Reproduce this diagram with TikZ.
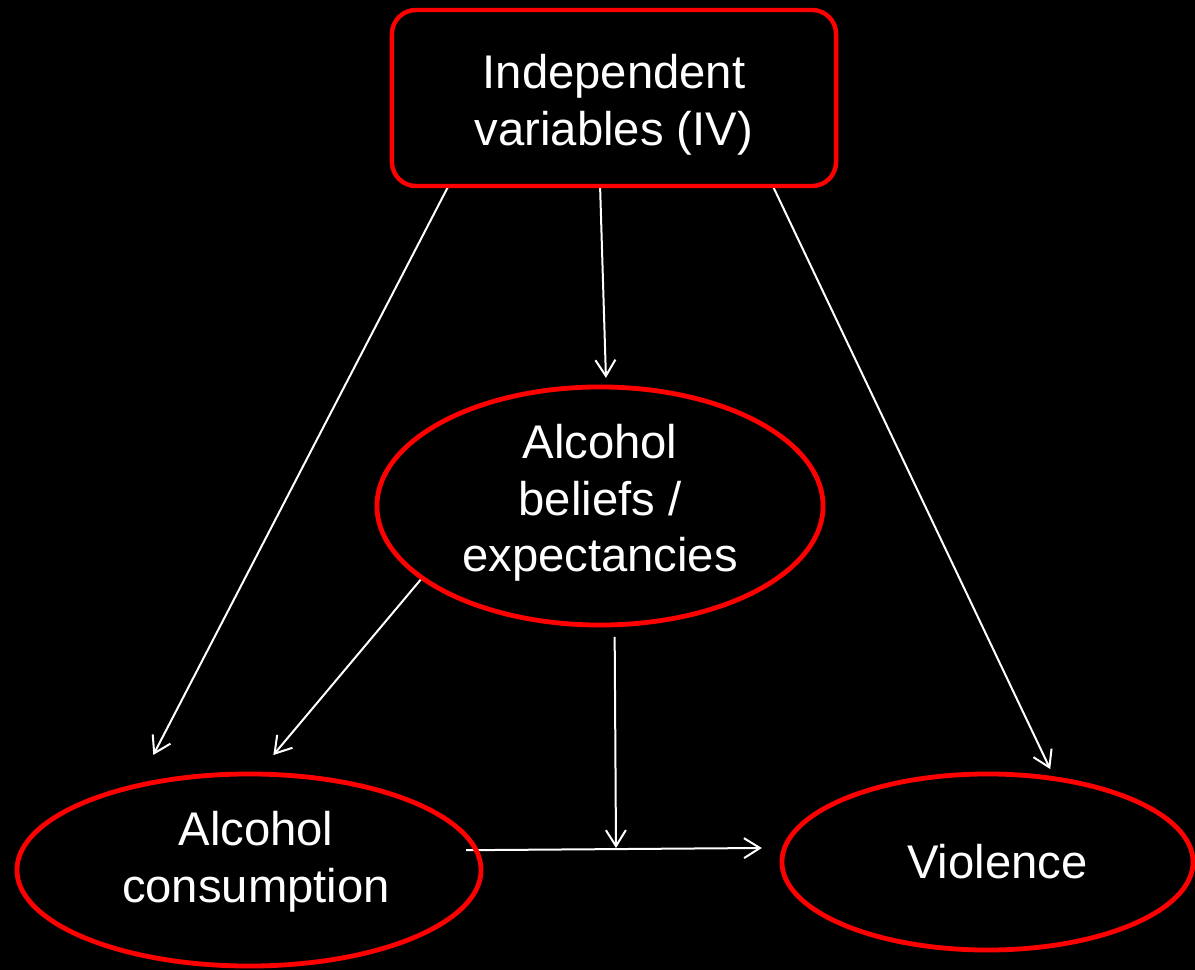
\documentclass[tikz,border=0pt]{standalone}
\usepackage{fontspec}
\setmainfont{Liberation Sans}
\usepackage{tikz}
\usetikzlibrary{shapes.geometric, arrows.meta, positioning, calc}
\pgfdeclarelayer{back}
\pgfdeclarelayer{links}
\pgfsetlayers{back,links,main}

\begin{document}
\begin{tikzpicture}[x=0.025cm, y=-0.025cm,
    varbox/.style={draw=red, line width=0.11cm, rounded corners=0.6cm, inner sep=0pt, outer sep=0pt,
      minimum width=11.1cm, minimum height=4.4cm, align=center, text=white,
      font=\fontsize{33.6}{40.5}\selectfont},
    varoval/.style={ellipse, draw=red, line width=0.12cm, inner sep=0pt, outer sep=0pt,
      align=center, text=white, font=\fontsize{33.6}{40.5}\selectfont},
    link/.style={draw=white, line width=0.05cm, -{Straight Barb[length=0.4cm, width=0.5cm]}}]
  \begin{pgfonlayer}{back}
    \fill[black] (0,0) rectangle (1195,970);
  \end{pgfonlayer}
  \useasboundingbox (0,0) rectangle (1195,970);

  % Variables
  \node[varbox] (iv) at (614,98) {\rule{0pt}{34pt}Independent\\variables (IV)};
  \node[varoval, minimum width=11.15cm, minimum height=5.95cm] (bel) at (600,506) {Alcohol\\beliefs /\\expectancies\rule[-11.5pt]{0pt}{0pt}};
  \node[varoval, minimum width=11.6cm, minimum height=4.8cm] (cons) at (249,870) {\hspace*{0.35cm}Alcohol\\\hspace*{0.35cm}consumption\rule[-18.5pt]{0pt}{0pt}};
  \node[varoval, minimum width=10.275cm, minimum height=4.4cm] (viol) at (987.5,862) {\hspace*{0.5cm}Violence};
  \coordinate (mid) at (616,848);

  % Paths
  \begin{pgfonlayer}{links}
    \draw[link, shorten >=0.87cm] (iv.208.9) -- (cons.143.2);
    \draw[link, shorten >=0.23cm] (iv.261.2) -- (bel.87.5);
    \draw[link, shorten >=0.27cm] (iv.331.5) -- (viol.51.6);
    \draw[link, shorten >=0.62cm] (bel.202.4) -- (cons.85.2);
    \draw[link, shorten <=0.3cm] (bel.277.2) -- (mid);
    \draw[link, shorten <=-0.25cm, shorten >=0.57cm] (cons.5.56) -- (viol.176.05);
  \end{pgfonlayer}
\end{tikzpicture}
\end{document}
